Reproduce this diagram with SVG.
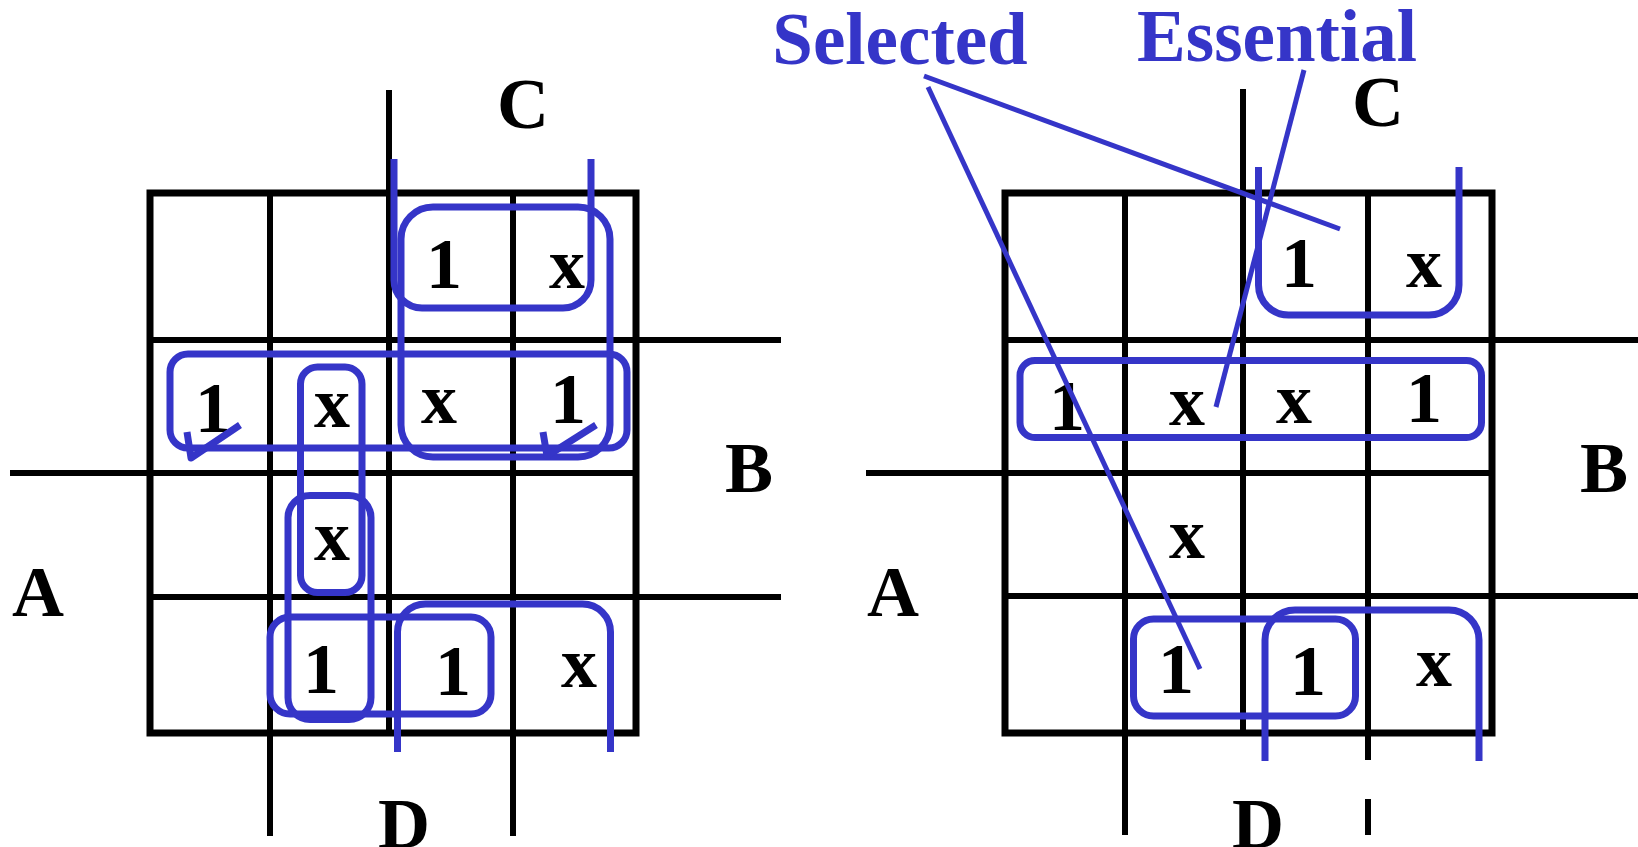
<svg xmlns="http://www.w3.org/2000/svg" width="1638" height="847" viewBox="0 0 1638 847">
<style>
.g{stroke:#000;stroke-width:6;fill:none}
.b{stroke:#000;stroke-width:7;fill:none}
.l{stroke:#3535C8;stroke-width:7;fill:none;stroke-linejoin:round}
.n{stroke:#3535C8;stroke-width:5;fill:none}
.t{font-family:"Liberation Serif","Times New Roman",serif;font-weight:bold;font-size:72px;text-anchor:middle;fill:#000}
.bt{font-family:"Liberation Serif","Times New Roman",serif;font-weight:bold;font-size:73px;text-anchor:middle;fill:#3535C8}
</style>
<rect width="1638" height="847" fill="#fff"/>

<g id="left-map">
  <g id="left-grid">
    <rect class="b" x="150" y="193" width="486" height="540"/>
    <line class="g" x1="270" y1="193" x2="270" y2="836"/>
    <line class="g" x1="389" y1="90" x2="389" y2="733"/>
    <line class="g" x1="513" y1="193" x2="513" y2="836"/>
    <line class="g" x1="150" y1="340" x2="781" y2="340"/>
    <line class="g" x1="10" y1="473" x2="636" y2="473"/>
    <line class="g" x1="150" y1="597" x2="781" y2="597"/>
  </g>
  <g id="left-cells">
    <text class="t" x="444" y="288">1</text>
    <text class="t" x="567" y="288">x</text>
    <text class="t" x="213" y="432">1</text>
    <text class="t" x="332" y="427">x</text>
    <text class="t" x="439" y="423">x</text>
    <text class="t" x="568" y="423">1</text>
    <text class="t" x="332" y="560">x</text>
    <text class="t" x="321" y="693">1</text>
    <text class="t" x="453" y="695">1</text>
    <text class="t" x="579" y="687">x</text>
  </g>
  <g id="left-labels">
    <text class="t" x="523" y="128">C</text>
    <text class="t" x="749" y="492">B</text>
    <text class="t" x="38" y="616">A</text>
    <text class="t" x="404" y="848">D</text>
  </g>
  <g id="left-loops">
    <path class="l" d="M394,159 V280 A28,28 0 0 0 422,308 H563 A28,28 0 0 0 591,280 V159"/>
    <rect class="l" x="401" y="207" width="209" height="250" rx="32"/>
    <rect class="l" x="170" y="354" width="457" height="94" rx="18"/>
    <polyline class="l" points="187,432 191,458 240,425"/>
    <polyline class="l" points="543,432 547,456 596,425"/>
    <rect class="l" x="300.5" y="367" width="61.5" height="225.5" rx="17"/>
    <rect class="l" x="288" y="495.5" width="83" height="224" rx="22"/>
    <rect class="l" x="270" y="617" width="221" height="97" rx="20"/>
    <path class="l" d="M397.5,752 V632 A28,28 0 0 1 425.5,604 H582.5 A28,28 0 0 1 610.5,632 V752"/>
  </g>
</g>

<g id="right-map">
  <g id="right-grid">
    <rect class="b" x="1005" y="193" width="487" height="540"/>
    <line class="g" x1="1125" y1="193" x2="1125" y2="835"/>
    <line class="g" x1="1243" y1="89" x2="1243" y2="733"/>
    <line class="g" x1="1368" y1="193" x2="1368" y2="760"/>
    <line class="g" x1="1368" y1="799" x2="1368" y2="835"/>
    <line class="g" x1="1005" y1="340" x2="1638" y2="340"/>
    <line class="g" x1="866" y1="473" x2="1492" y2="473"/>
    <line class="g" x1="1005" y1="596" x2="1638" y2="596"/>
  </g>
  <g id="right-cells">
    <text class="t" x="1299" y="287">1</text>
    <text class="t" x="1424" y="287">x</text>
    <text class="t" x="1067" y="430">1</text>
    <text class="t" x="1187" y="425">x</text>
    <text class="t" x="1294" y="423">x</text>
    <text class="t" x="1424" y="422">1</text>
    <text class="t" x="1187" y="558">x</text>
    <text class="t" x="1176" y="693">1</text>
    <text class="t" x="1308" y="695">1</text>
    <text class="t" x="1434" y="686">x</text>
  </g>
  <g id="right-labels">
    <text class="t" x="1378" y="126">C</text>
    <text class="t" x="1604" y="492">B</text>
    <text class="t" x="893" y="616">A</text>
    <text class="t" x="1258" y="848">D</text>
  </g>
  <g id="right-loops">
    <path class="l" d="M1258.5,167 V285 A30,30 0 0 0 1288.5,315 H1429 A30,30 0 0 0 1459,285 V167"/>
    <rect class="l" x="1020" y="360.5" width="461.5" height="77" rx="15"/>
    <rect class="l" x="1133.5" y="619" width="222" height="97" rx="20"/>
    <path class="l" d="M1265,761 V640 A30,30 0 0 1 1295,610 H1449 A30,30 0 0 1 1479,640 V761"/>
  </g>
</g>

<g id="annotation-labels">
  <text class="bt" x="900" y="64">Selected</text>
  <text class="bt" x="1277" y="61">Essential</text>
</g>
<g id="connectors">
  <line class="n" x1="924" y1="76" x2="1340" y2="229"/>
  <line class="n" x1="928" y1="87" x2="1200" y2="669"/>
  <line class="n" x1="1304" y1="70" x2="1216" y2="407"/>
</g>
</svg>
